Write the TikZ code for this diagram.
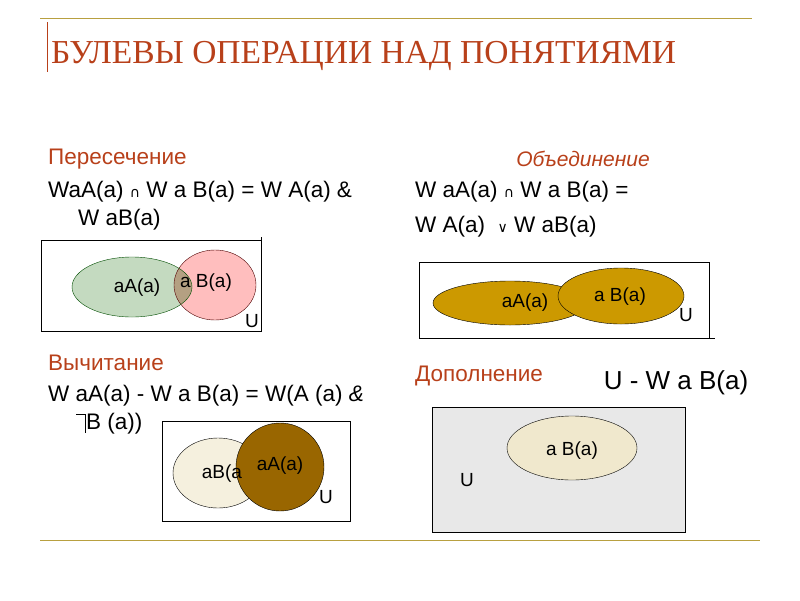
\documentclass[tikz,border=0pt]{standalone}
\usepackage{fontspec}
\setmainfont{Liberation Sans}
\newfontfamily\serifrm{Liberation Serif}
\newfontfamily\djv{DejaVu Sans}
\newcommand{\opsym}[1]{{\djv\fontsize{14}{14}\selectfont #1}}
\begin{document}
\begin{tikzpicture}[x=1pt,y=-1pt,
  txt/.style={anchor=west,inner sep=0pt,font=\fontsize{22.5}{26}\selectfont},
  lbl/.style={inner sep=0pt,font=\fontsize{19}{22}\selectfont},
  frame/.style={draw=black,line width=0.8pt}]
\definecolor{hdr}{HTML}{B8401A}
\definecolor{olive}{HTML}{B8A040}
\useasboundingbox (0,0) rectangle (800,600);
% decorations
\draw[olive,line width=1pt] (40,18) -- (752,18);
\draw[olive,line width=1pt] (40,540) -- (760,540);
\draw[hdr,line width=1pt] (47,22) -- (47,72);
\node[anchor=west,inner sep=0pt,text=hdr,font=\serifrm\fontsize{33.5}{36}\selectfont] (title) at (51,56) {БУЛЕВЫ ОПЕРАЦИИ НАД ПОНЯТИЯМИ};
% left texts
\node[txt,text=hdr] (h1) at (48,159) {Пересечение};
\node[txt] (t1) at (48,192) {WaA(a) \opsym{∩} W a B(a) = W A(a) \&};
\node[txt] (t2) at (78,220) {W aB(a)};
\node[txt,text=hdr] (h2) at (48,363) {Вычитание};
\node[txt] (t3) at (48,396) {W aA(a) - W a B(a) = W(A (a) \textit{\&}};
\node[txt] (t4) at (86,424) {B (a))};
\draw[line width=0.6pt] (76,414) -- (85,414) -- (85,433);
% right texts
\node[inner sep=0pt,text=hdr,font=\fontsize{21}{24}\selectfont\itshape] (h3) at (583,159) {Объединение};
\node[txt] (t5) at (415,192) {W aA(a) \opsym{∩} W a B(a) =};
\node[txt] (t6) at (415,227) {W A(a) \ \opsym{∨} W aB(a)};
\node[txt,text=hdr] (h4) at (415,376) {Дополнение};
\node[inner sep=0pt,font=\fontsize{26}{30}\selectfont] (cmp) at (676,383) {U - W a B(a)};
% intersection
\draw[frame] (41,240) rectangle (261,331);
\draw[frame] (261,237) -- (261,240);
\begin{scope}
\fill[fill={rgb,255:red,196;green,218;blue,192}] (132,287) ellipse [x radius=60,y radius=30];
\fill[fill={rgb,255:red,255;green,190;blue,190}] (215,285) ellipse [x radius=41,y radius=35];
\clip (132,287) ellipse [x radius=60,y radius=30];
\fill[fill={rgb,255:red,180;green,160;blue,130}] (215,285) ellipse [x radius=41,y radius=35];
\end{scope}
\draw[black!70!red] (215,285) ellipse [x radius=41,y radius=35];
\draw[black!70!green] (132,287) ellipse [x radius=60,y radius=30];
\node[lbl] (ia) at (137,288) {aA(a)};
\node[lbl] (ib) at (206,283) {a B(a)};
\node[lbl] (iu) at (252,321) {U};
% subtraction
\draw[frame] (162,421) rectangle (350,521);
\draw[fill={rgb,255:red,245;green,240;blue,222}] (218,473) ellipse [x radius=45,y radius=35];
\draw[fill={rgb,255:red,153;green,102;blue,0}] (280,467) circle (44);
\node[lbl] (sb) at (222,474) {aB(a};
\node[lbl] (sa) at (280,466) {aA(a)};
\node[lbl] (su) at (326,497) {U};
% union
\draw[frame] (419,262) rectangle (709,338);
\draw[line width=0.5pt] (709,338) -- (715,338);
\definecolor{gold}{HTML}{CC9900}
\draw[fill=gold] (510,303) ellipse [x radius=77,y radius=22];
\draw[fill=gold] (621,296) ellipse [x radius=63,y radius=28];
\node[lbl] (ua) at (525,303) {aA(a)};
\node[lbl] (ub) at (620,297) {a B(a)};
\node[lbl] (uu) at (686,315) {U};
% complement
\draw[frame,fill=black!9] (432,407) rectangle (685,532);
\draw[fill={rgb,255:red,240;green,232;blue,205}] (572,448) ellipse [x radius=65,y radius=32];
\node[lbl] (cb) at (572,451) {a B(a)};
\node[lbl] (cu) at (467,480) {U};
\end{tikzpicture}
\end{document}
